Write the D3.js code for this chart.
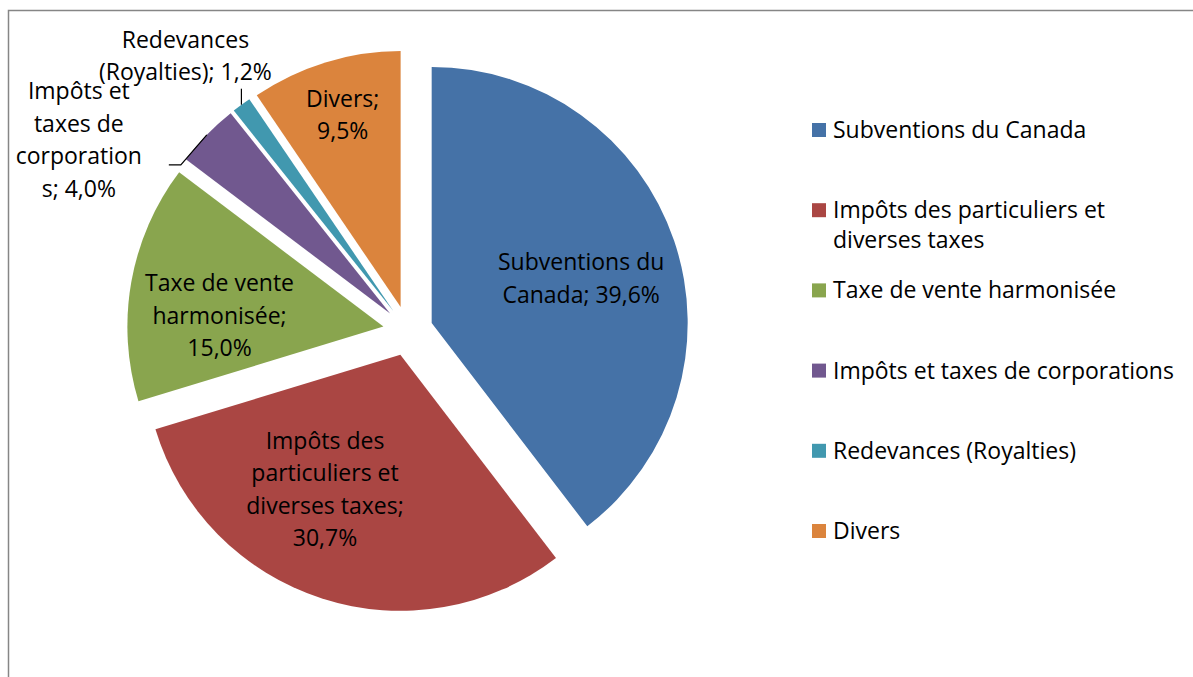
<!DOCTYPE html>
<html>
<head>
<meta charset="utf-8">
<script src="https://cdn.jsdelivr.net/npm/d3@7"></script>
<style>
  body { margin: 0; background: #fff; }
  svg text { font-family: "Open Sans", "Noto Sans", sans-serif; fill: #000; }
</style>
</head>
<body>
<div id="chart"></div>
<script>
const categories = [
  'Subventions du Canada',
  'Impôts des particuliers et diverses taxes',
  'Taxe de vente harmonisée',
  'Impôts et taxes de corporations',
  'Redevances (Royalties)',
  'Divers'
];
const values = [39.6, 30.7, 15.0, 4.0, 1.2, 9.5];
const colors = ['#4572A7', '#AA4643', '#89A54E', '#71588F', '#4198AF', '#DB843D'];
// data label text, already wrapped as in the original
const labelLines = [
  ['Subventions du', 'Canada; 39,6%'],
  ['Impôts des', 'particuliers et', 'diverses taxes;', '30,7%'],
  ['Taxe de vente', 'harmonisée;', '15,0%'],
  ['Impôts et', 'taxes de', 'corporation', 's; 4,0%'],
  ['Redevances', '(Royalties); 1,2%'],
  ['Divers;', '9,5%']
];
const legendLines = [
  ['Subventions du Canada'],
  ['Impôts des particuliers et', 'diverses taxes'],
  ['Taxe de vente harmonisée'],
  ['Impôts et taxes de corporations'],
  ['Redevances (Royalties)'],
  ['Divers']
];

const width = 1193, height = 677;
const cx = 408, cy = 331, radius = 256, explode = 25;
const fontSize = 23, lineH = 32.5;

const svg = d3.select('#chart').append('svg')
  .attr('width', width)
  .attr('height', height);

// chart area frame (only top and left edges fall inside the picture)
svg.append('path')
  .attr('d', `M8.5,${height + 2}V10.5H${width + 2}`)
  .attr('fill', 'none')
  .attr('stroke', '#868686')
  .attr('stroke-width', 1.5);

const pie = d3.pie().sort(null).value(d => d);
const arcs = pie(values);
const arc = d3.arc().innerRadius(0).outerRadius(radius);

const mid = d => (d.startAngle + d.endAngle) / 2;
const offset = (d, k) => [Math.sin(mid(d)) * k, -Math.cos(mid(d)) * k];

const g = svg.append('g').attr('transform', `translate(${cx},${cy})`);

g.selectAll('.slice')
  .data(arcs)
  .join('path')
  .attr('class', 'slice')
  .attr('transform', d => `translate(${offset(d, explode)})`)
  .attr('d', arc)
  .attr('fill', (d, i) => colors[i]);

// label placement: radial fraction of the radius + nudge; outside labels get a leader
const labelCfg = [
  { k: 0.6, dx: 4, dy: 5 },
  { k: 0.63, dx: -26, dy: -19 },
  { k: 0.65, dx: 0, dy: 18 },
  { k: 1.0, out: true, dx: -128, dy: 5, lead: [[-26, 30], [-38, 30]] },
  { k: 1.0, out: true, dx: -56, dy: -49, lead: [[0, -16]] },
  { k: 0.77, dx: 0, dy: -4 }
];

arcs.forEach((d, i) => {
  const cfg = labelCfg[i];
  const [ox, oy] = offset(d, explode);
  const [ax, ay] = offset(d, radius * cfg.k);
  const px = ox + ax, py = oy + ay;
  const lines = labelLines[i];
  const tx = px + cfg.dx, ty = py + cfg.dy;
  if (cfg.out) {
    const pts = [[px, py]].concat(cfg.lead.map(p => [px + p[0], py + p[1]]));
    g.append('path')
      .attr('d', d3.line()(pts))
      .attr('fill', 'none')
      .attr('stroke', '#000')
      .attr('stroke-width', 1.2);
  }
  const t = g.append('text')
    .attr('text-anchor', 'middle')
    .attr('font-size', fontSize);
  lines.forEach((l, j) => {
    t.append('tspan')
      .attr('x', tx)
      .attr('y', ty + (j - (lines.length - 1) / 2) * lineH)
      .attr('dy', '0.35em')
      .text(l);
  });
});

// legend
const legendY = d3.scalePoint().domain(d3.range(categories.length)).range([130, 531]);
const legend = svg.append('g').selectAll('g')
  .data(categories)
  .join('g')
  .attr('transform', (d, i) => `translate(812,${legendY(i)})`);

legend.append('rect')
  .attr('x', 0).attr('y', -7)
  .attr('width', 14).attr('height', 14)
  .attr('fill', (d, i) => colors[i]);

legend.append('text')
  .attr('font-size', fontSize)
  .each(function (d, i) {
    legendLines[i].forEach((l, j) => {
      d3.select(this).append('tspan')
        .attr('x', 21)
        .attr('y', j * 30)
        .attr('dy', '0.35em')
        .text(l);
    });
  });
</script>
</body>
</html>
